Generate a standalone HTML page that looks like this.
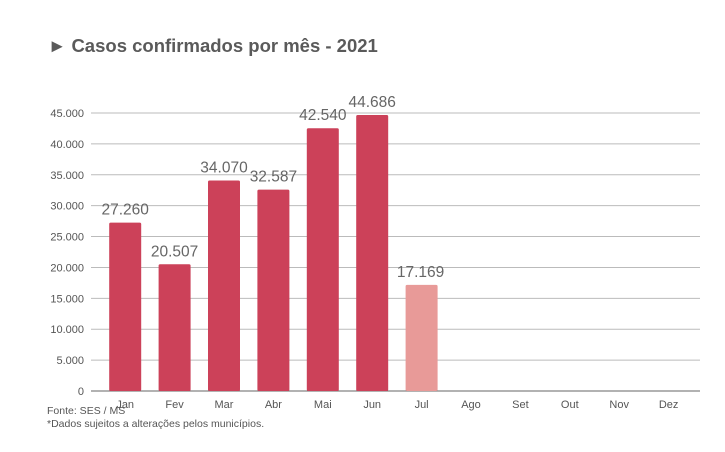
<!DOCTYPE html>
<html><head><meta charset="utf-8"><style>
body{margin:0;background:#fff;width:725px;height:447px;overflow:hidden;font-family:"Liberation Sans",sans-serif}
</style></head><body>
<svg id="chart" width="725" height="447" xmlns="http://www.w3.org/2000/svg">
<text x="48" y="52" font-size="18.5" font-weight="bold" fill="#5a5a5a">► Casos confirmados por mês - 2021</text>
<g id="grid"></g><g id="bars"></g><g id="labels"></g>
<text x="47" y="414" font-size="10.5" fill="#555">Fonte: SES / MS</text>
<text x="47" y="427" font-size="10.5" fill="#555">*Dados sujeitos a alterações pelos municípios.</text>
</svg>
<script>
const months=["Jan","Fev","Mar","Abr","Mai","Jun","Jul","Ago","Set","Out","Nov","Dez"];
const cases=[27260,20507,34070,32587,42540,44686,17169,null,null,null,null,null];
const valueLabels=["27.260","20.507","34.070","32.587","42.540","44.686","17.169"];
const yTicks=[0,5000,10000,15000,20000,25000,30000,35000,40000,45000];
const yTickLabels=["0","5.000","10.000","15.000","20.000","25.000","30.000","35.000","40.000","45.000"];
const NS="http://www.w3.org/2000/svg";
const y0=391,yTop=113,maxV=45000,x0=100.5,band=49.4,bw=32;
const yS=v=>y0-(v/maxV)*(y0-yTop);
const xC=i=>x0+band*(i+0.5);
function mk(t,a,p){const e=document.createElementNS(NS,t);for(const k in a)e.setAttribute(k,a[k]);p.appendChild(e);return e;}
const grid=document.getElementById('grid'),bars=document.getElementById('bars'),labels=document.getElementById('labels');
yTicks.forEach((v,i)=>{
 const l=mk('line',{x1:91,x2:700,y1:yS(v),y2:yS(v),stroke:i==0?'#666':'#bbb','stroke-width':1},grid);
 
 
 const t=mk('text',{x:84,y:yS(v)+4,'text-anchor':'end','font-size':11,fill:'#555'},grid);
 t.textContent=yTickLabels[i];
 
 
});
months.forEach((m,i)=>{
 const t=mk('text',{x:xC(i),y:408,'text-anchor':'middle','font-size':11,fill:'#555'},labels);
 t.textContent=m;
 
 
 const v=cases[i];
 if(v==null)return;
 const r=mk('rect',{x:xC(i)-bw/2,y:yS(v),width:bw,height:y0-yS(v),fill:i==6?'#e89a98':'#cc4159',rx:1.5},bars);
 
 
 const vl=mk('text',{x:xC(i)+(i==6?-1:0),y:yS(v)-8,'text-anchor':'middle','font-size':15.5,fill:'#666'},labels);
 vl.textContent=valueLabels[i];
 
 
});
</script>
</body></html>
